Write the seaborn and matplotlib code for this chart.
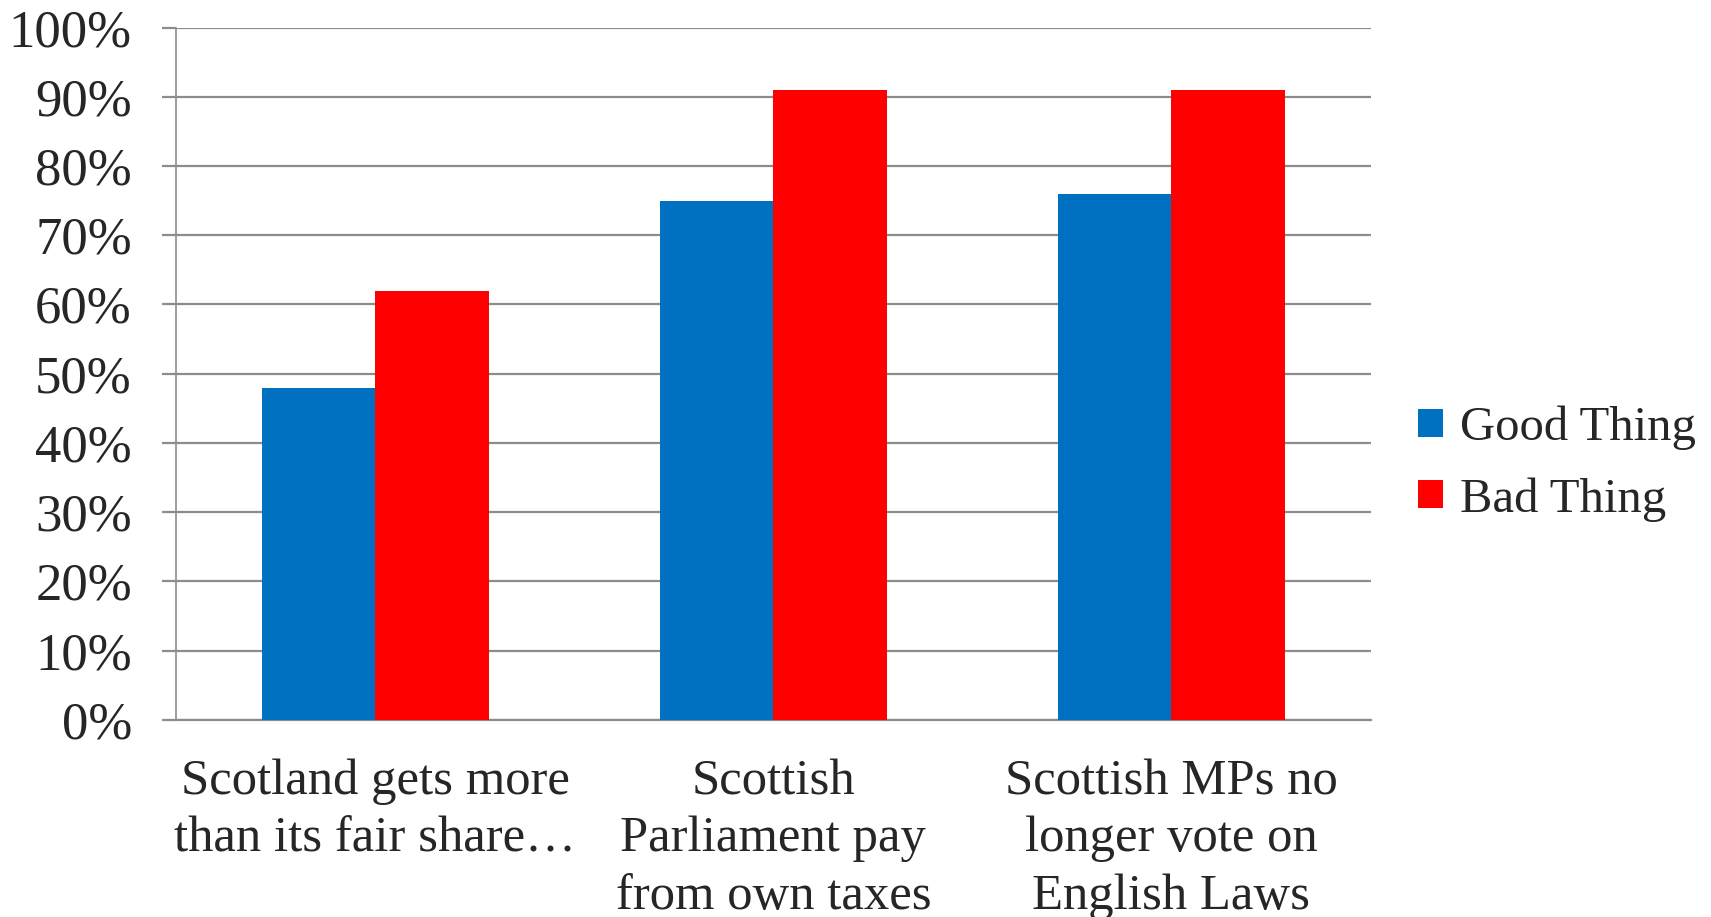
import matplotlib
matplotlib.use("Agg")
import pandas as pd
import seaborn as sns
from matplotlib import pyplot as plt
from matplotlib.ticker import FuncFormatter, MultipleLocator, FixedLocator

# data
categories = ["Scotland gets more\nthan its fair share…",
              "Scottish\nParliament pay\nfrom own taxes",
              "Scottish MPs no\nlonger vote on\nEnglish Laws"]
series = ["Good Thing", "Bad Thing"]
good_thing = [48, 75, 76]
bad_thing = [62, 91, 91]
colors = ["#0070C0", "#FF0000"]

df = pd.DataFrame({
    "question": categories * 2,
    "answer": [series[0]] * 3 + [series[1]] * 3,
    "pct": good_thing + bad_thing,
})

sns.set_style("white")
plt.rcParams['font.family'] = ['Liberation Serif', 'DejaVu Serif']

fig = plt.figure(figsize=(17.11, 9.17), dpi=100)
ax = fig.add_axes([0.103, 0.215, 0.698, 0.755])

sns.barplot(data=df, x="question", y="pct", hue="answer", palette=colors,
            width=0.57, gap=0, saturation=1, linewidth=0, ax=ax, zorder=3)

grey = "#8c8c8c"
ax.set_ylim(0, 100)
ax.set_xlim(-0.5, 2.5)
ax.yaxis.set_major_locator(MultipleLocator(10))
ax.yaxis.set_major_formatter(FuncFormatter(lambda v, p: f"{v:.0f}%"))
ax.grid(axis="y", color=grey, linewidth=1.6, zorder=0)
ax.set_axisbelow(True)
for b in ax.patches:
    b.set_zorder(3)
    b.set_linewidth(0)

# category boundary ticks below the axis
ax.xaxis.set_minor_locator(FixedLocator([-0.5, 0.5, 1.5, 2.5]))
ax.tick_params(axis="x", which="major", length=0, pad=28, labelsize=36.5)
ax.tick_params(axis="x", which="minor", length=12, width=1.2, color=grey)
ax.tick_params(axis="y", length=10, width=1.6, color=grey, pad=22, labelsize=38, left=True)
for t in ax.get_xticklabels():
    t.set_linespacing(1.3)

for s in ["top", "right"]:
    ax.spines[s].set_visible(False)
ax.spines["left"].set_color(grey)
ax.spines["left"].set_linewidth(1.2)
ax.spines["bottom"].set_color(grey)
ax.spines["bottom"].set_linewidth(1.6)

ax.set_xlabel("")
ax.set_ylabel("")

ax.legend(title=None, frameon=False, fontsize=35, loc="center left",
          bbox_to_anchor=(1.04, 0.37), handlelength=0.5, handleheight=0.5,
          handletextpad=0.35, labelspacing=0.55, borderaxespad=0, borderpad=0)

fig.savefig("out.png", dpi=100)
